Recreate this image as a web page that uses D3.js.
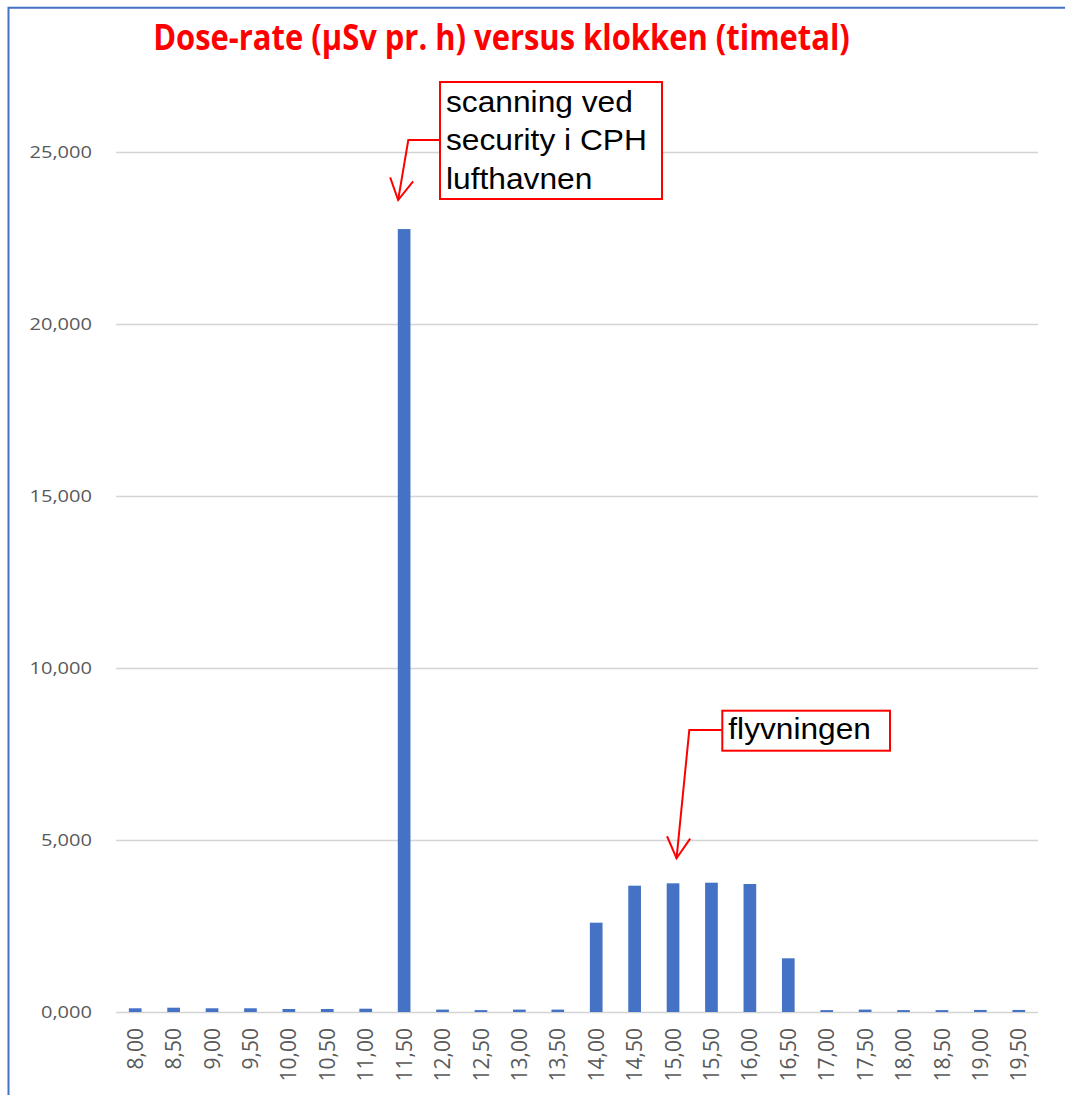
<!DOCTYPE html>
<html>
<head>
<meta charset="utf-8">
<script src="https://cdn.jsdelivr.net/npm/d3@7"></script>
<style>
  body { margin: 0; background: #fff; }
  svg { display: block; }
</style>
</head>
<body>
<div class="container"></div>
<script>
// data
const hours = ["8,00", "8,50", "9,00", "9,50", "10,00", "10,50", "11,00", "11,50",
    "12,00", "12,50", "13,00", "13,50", "14,00", "14,50", "15,00", "15,50",
    "16,00", "16,50", "17,00", "17,50", "18,00", "18,50", "19,00", "19,50"];
const doseRate = [108, 125, 108, 108, 87, 87, 96, 22760,
    70, 55, 70, 70, 2596, 3672, 3741, 3759,
    3721, 1561, 55, 70, 55, 55, 60, 60];
const yTicks = [0, 5000, 10000, 15000, 20000, 25000];
const yTickLabels = ["0,000", "5,000", "10,000", "15,000", "20,000", "25,000"];
const titleText = "Dose-rate (\u00b5Sv pr. h) versus klokken (timetal)";
const notes = [
    {hour: "11,50", lines: ["scanning ved", "security i CPH", "lufthavnen"]},
    {hour: "15,00", lines: ["flyvningen"]}
];

const width = 1065, height = 1095;
const margin = {top: 152, right: 27, bottom: 83, left: 116};

const svg = d3.select(".container")
    .append("svg")
    .attr("width", width)
    .attr("height", height);

const x = d3.scaleBand()
    .domain(hours)
    .range([margin.left, width - margin.right])
    .paddingInner(0.67)
    .paddingOuter(0.335);

const y = d3.scaleLinear()
    .domain([0, 25000])
    .range([height - margin.bottom, margin.top]);

// outer frame (top and left edge only visible)
svg.append("path")
    .attr("d", `M8.5,${height} V7.7 H${width}`)
    .attr("fill", "none")
    .attr("stroke", "#4472C4")
    .attr("stroke-width", 2);

// grid lines
svg.append("g")
    .selectAll("line")
    .data(yTicks)
    .join("line")
    .attr("x1", margin.left)
    .attr("x2", width - margin.right)
    .attr("y1", d => Math.round(y(d)) + 0.5)
    .attr("y2", d => Math.round(y(d)) + 0.5)
    .attr("stroke", "#d4d4d4")
    .attr("stroke-width", 1.4);

// y labels
svg.append("g")
    .selectAll("text")
    .data(yTicks)
    .join("text")
    .attr("transform", d => `translate(92, ${y(d)}) scale(1.18, 1)`)
    .attr("text-anchor", "end")
    .attr("dy", "0.36em")
    .attr("font-family", "'Open Sans', sans-serif")
    .attr("font-size", "17px")
    .attr("fill", "#595959")
    .text((d, i) => yTickLabels[i]);

// bars
svg.append("g")
    .selectAll("rect")
    .data(doseRate)
    .join("rect")
    .attr("x", (d, i) => x(hours[i]))
    .attr("y", d => y(d))
    .attr("width", x.bandwidth())
    .attr("height", d => y(0) - y(d))
    .attr("fill", "#4472C4");

// x labels, clipped at the bottom like the original
svg.append("clipPath")
    .attr("id", "clip")
    .append("rect")
    .attr("x", 0).attr("y", 0)
    .attr("width", width).attr("height", 1081);

svg.append("g")
    .attr("clip-path", "url(#clip)")
    .selectAll("text")
    .data(hours)
    .join("text")
    .attr("transform", d => `translate(${x(d) + x.bandwidth() / 2}, 1028) rotate(-90)`)
    .attr("text-anchor", "end")
    .attr("dy", "0.36em")
    .attr("font-family", "'Open Sans', sans-serif")
    .attr("font-size", "21px")
    .attr("fill", "#595959")
    .text(d => d);

// title, squeezed to the original width
const title = svg.append("text")
    .attr("text-anchor", "middle")
    .attr("font-family", "'Liberation Sans Narrow', 'Open Sans', sans-serif")
    .attr("font-weight", "bold")
    .attr("font-size", "35px")
    .attr("fill", "#FF0000")
    .text(titleText);
const tScale = 697 / title.node().getComputedTextLength();
title.attr("transform", `translate(501.5, 50) scale(${tScale}, 1)`);

// annotation boxes with arrows
const boxes = [
    {x: 440, y: 82, w: 222, h: 117, elbowX: 408.3, elbowY: 140, tipDx: -6, tipDy: -29, textW: 201, base: [112, 150, 189]},
    {x: 722.3, y: 710.7, w: 167.7, h: 40, elbowX: 689.3, elbowY: 730, tipDx: 3.5, tipDy: -25, textW: 142.6, base: [739.3]}
];

function arrowHead(tx, ty, fx, fy) {
    const a = Math.atan2(fy - ty, fx - tx);
    const len = 24, spread = 29 * Math.PI / 180;
    const p1 = [tx + len * Math.cos(a - spread), ty + len * Math.sin(a - spread)];
    const p2 = [tx + len * Math.cos(a + spread), ty + len * Math.sin(a + spread)];
    return `M${p1[0]},${p1[1]} L${tx},${ty} L${p2[0]},${p2[1]}`;
}

notes.forEach((n, k) => {
    const b = boxes[k];
    const i = hours.indexOf(n.hour);
    const tipX = x(n.hour) + x.bandwidth() / 2 + b.tipDx;
    const tipY = y(doseRate[i]) + b.tipDy;
    const g = svg.append("g");

    g.append("path")
        .attr("d", `M${b.x},${b.elbowY} H${b.elbowX} L${tipX},${tipY}`)
        .attr("fill", "none")
        .attr("stroke", "#FF0000")
        .attr("stroke-width", 2);
    g.append("path")
        .attr("d", arrowHead(tipX, tipY, b.elbowX, b.elbowY))
        .attr("fill", "none")
        .attr("stroke", "#FF0000")
        .attr("stroke-width", 2);

    g.append("rect")
        .attr("x", b.x).attr("y", b.y)
        .attr("width", b.w).attr("height", b.h)
        .attr("fill", "#fff")
        .attr("stroke", "#FF0000")
        .attr("stroke-width", 2);

    const texts = g.selectAll("text")
        .data(n.lines)
        .join("text")
        .attr("font-family", "'Liberation Sans', Arial, sans-serif")
        .attr("font-size", "29px")
        .attr("fill", "#000")
        .text(d => d);
    const widest = d3.max(texts.nodes(), t => t.getComputedTextLength());
    const s = b.textW / widest;
    texts.attr("transform", (d, j) => `translate(${b.x + 6}, ${b.base[j]}) scale(${s}, 1)`);
});
</script>
</body>
</html>
